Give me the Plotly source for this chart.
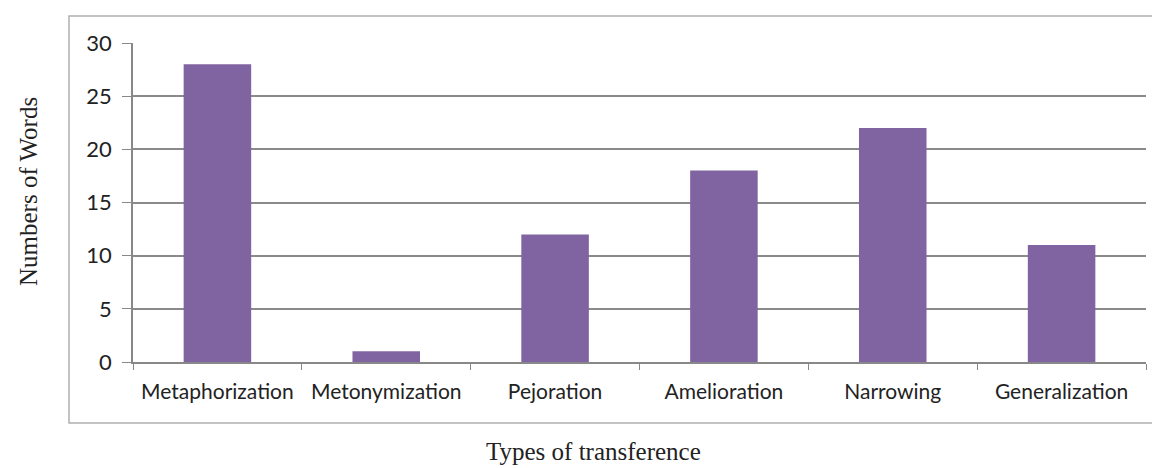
import plotly.graph_objects as go

categories = ["Metaphorization", "Metonymization", "Pejoration", "Amelioration", "Narrowing", "Generalization"]
values = [28, 1, 12, 18, 22, 11]
y_ticks = [0, 5, 10, 15, 20, 25, 30]

fig = go.Figure()
fig.add_trace(go.Bar(x=categories, y=values, marker=dict(color="#8064A2", line=dict(width=0))))

# page has an 8px body margin, so figure pixel = screen pixel - 8
OFF = 8
W, H = 1160 - OFF, 468 - OFF
L, T = 133 - OFF, 43 - OFF
R = W - (1146 - OFF)
B = H - (362 - OFF)
pw = W - L - R
ph = H - T - B

def px_x(p):
    return (p - OFF - L) / pw

def px_y(p):
    return (H - B - (p - OFF)) / ph

fig.add_shape(type="rect", xref="paper", yref="paper",
              x0=px_x(69), x1=px_x(1159), y0=px_y(423), y1=px_y(16),
              line=dict(color="#b0b0b0", width=1.5), fillcolor="rgba(0,0,0,0)", layer="below")

fig.add_annotation(text="Types of transference", xref="paper", yref="paper",
                   x=px_x(593), y=px_y(451), showarrow=False,
                   xanchor="center", yanchor="middle",
                   font=dict(family="Liberation Serif, serif", size=25, color="#222"))
fig.add_annotation(text="Numbers of Words", xref="paper", yref="paper",
                   x=px_x(28), y=px_y(192), showarrow=False, textangle=-90,
                   xanchor="center", yanchor="middle",
                   font=dict(family="Liberation Serif, serif", size=25, color="#222"))

fig.update_layout(
    width=W, height=H,
    margin=dict(l=L, r=R, t=T, b=B, autoexpand=False),
    plot_bgcolor="white", paper_bgcolor="white",
    bargap=0.6,
    showlegend=False,
    font=dict(family="Lato, Open Sans, sans-serif", color="#222"),
)
fig.update_xaxes(
    type="category", tickson="boundaries", ticks="outside", ticklen=6, tickcolor="#888",
    showline=True, linecolor="#888", linewidth=1.5, showgrid=False, automargin=False,
    tickangle=0, ticklabelstandoff=10,
    tickfont=dict(size=21, family="Lato, sans-serif", color="#222"),
)
fig.update_yaxes(
    range=[0, 30], tickvals=y_ticks, ticks="outside", ticklen=9, tickcolor="#888",
    showline=True, linecolor="#888", linewidth=1.5, automargin=False,
    ticklabelstandoff=6,
    showgrid=True, gridcolor="#8a8a8a", gridwidth=1.5, zeroline=False,
    tickfont=dict(size=22, family="Lato, sans-serif", color="#222"),
)

fig.write_html("out.html")
